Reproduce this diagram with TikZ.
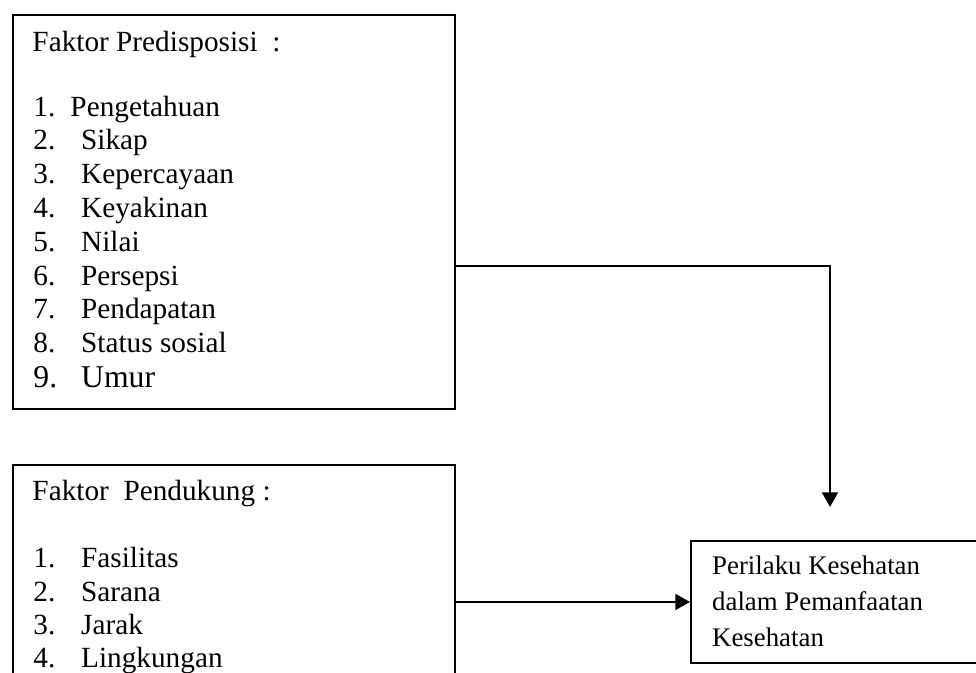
\documentclass[tikz,border=0pt]{standalone}
\usepackage{fontspec}
\setmainfont{Liberation Serif}
\usetikzlibrary{arrows.meta}

\begin{document}
\begin{tikzpicture}[
        x=0.41pt, y=-0.41pt,
        frame_box/.style={rectangle, draw, line width=0.8pt, anchor=north west, inner sep=0pt},
        list_text/.style={anchor=base west, inner sep=0pt, font=\fontsize{12}{14}\selectfont},
        result_text/.style={anchor=base west, inner sep=0pt, font=\fontsize{11}{13}\selectfont},
        link/.style={line width=0.9pt},
        tip/.style={-{Triangle[width=6.5pt,length=6pt]}}
    ]
        \path[use as bounding box, clip] (0,0) rectangle (976,673);

        % Kotak faktor predisposisi
        \node[frame_box, minimum width=442*0.41pt, minimum height=394*0.41pt] (pred_box) at (12,14) {};
        \node[list_text] (pred_title) at (32,51.7) {Faktor Predisposisi\ \ :};
        \node[list_text] (pred_n1) at (33,116.7) {1.};
        \node[list_text] (pred_t1) at (70,116.7) {Pengetahuan};
        \foreach \t [count=\k] in {Sikap, Kepercayaan, Keyakinan, Nilai, Persepsi, Pendapatan, Status sosial} {
            \pgfmathtruncatemacro{\n}{\k+1}
            \node[list_text] (pred_n\n) at (33,{150+(\k-1)*33.8}) {\n.};
            \node[list_text] (pred_t\n) at (80.7,{150+(\k-1)*33.8}) {\t};
        }
        \node[list_text, font=\fontsize{13}{15}\selectfont] (pred_n9) at (33,388) {9.};
        \node[list_text, font=\fontsize{13}{15}\selectfont] (pred_t9) at (80.7,388) {Umur};

        % Kotak faktor pendukung
        \node[frame_box, minimum width=442*0.41pt, minimum height=250*0.41pt] (supp_box) at (12,464) {};
        \node[list_text] (supp_title) at (32,501) {Faktor\ \ Pendukung :};
        \foreach \t [count=\k] in {Fasilitas, Sarana, Jarak, Lingkungan} {
            \node[list_text] (supp_n\k) at (33,{567.7+(\k-1)*33.4}) {\k.};
            \node[list_text] (supp_t\k) at (80.7,{567.7+(\k-1)*33.4}) {\t};
        }

        % Kotak perilaku
        \node[frame_box, minimum width=320*0.41pt, minimum height=122*0.41pt] (perilaku_box) at (690,540) {};
        \node[result_text] (perilaku_l1) at (711.7,575) {Perilaku Kesehatan};
        \node[result_text] (perilaku_l2) at (711.7,610.7) {dalam Pemanfaatan};
        \node[result_text] (perilaku_l3) at (711.7,646.7) {Kesehatan};

        % Penghubung
        \coordinate (turn) at (830,266);
        \coordinate (drop) at (830,507);
        \draw[link, tip] (pred_box.east |- turn) -- (turn) -- (drop);
        \draw[link, tip] (supp_box.east |- perilaku_box.west) -- (perilaku_box.west);
    \end{tikzpicture}
\end{document}
